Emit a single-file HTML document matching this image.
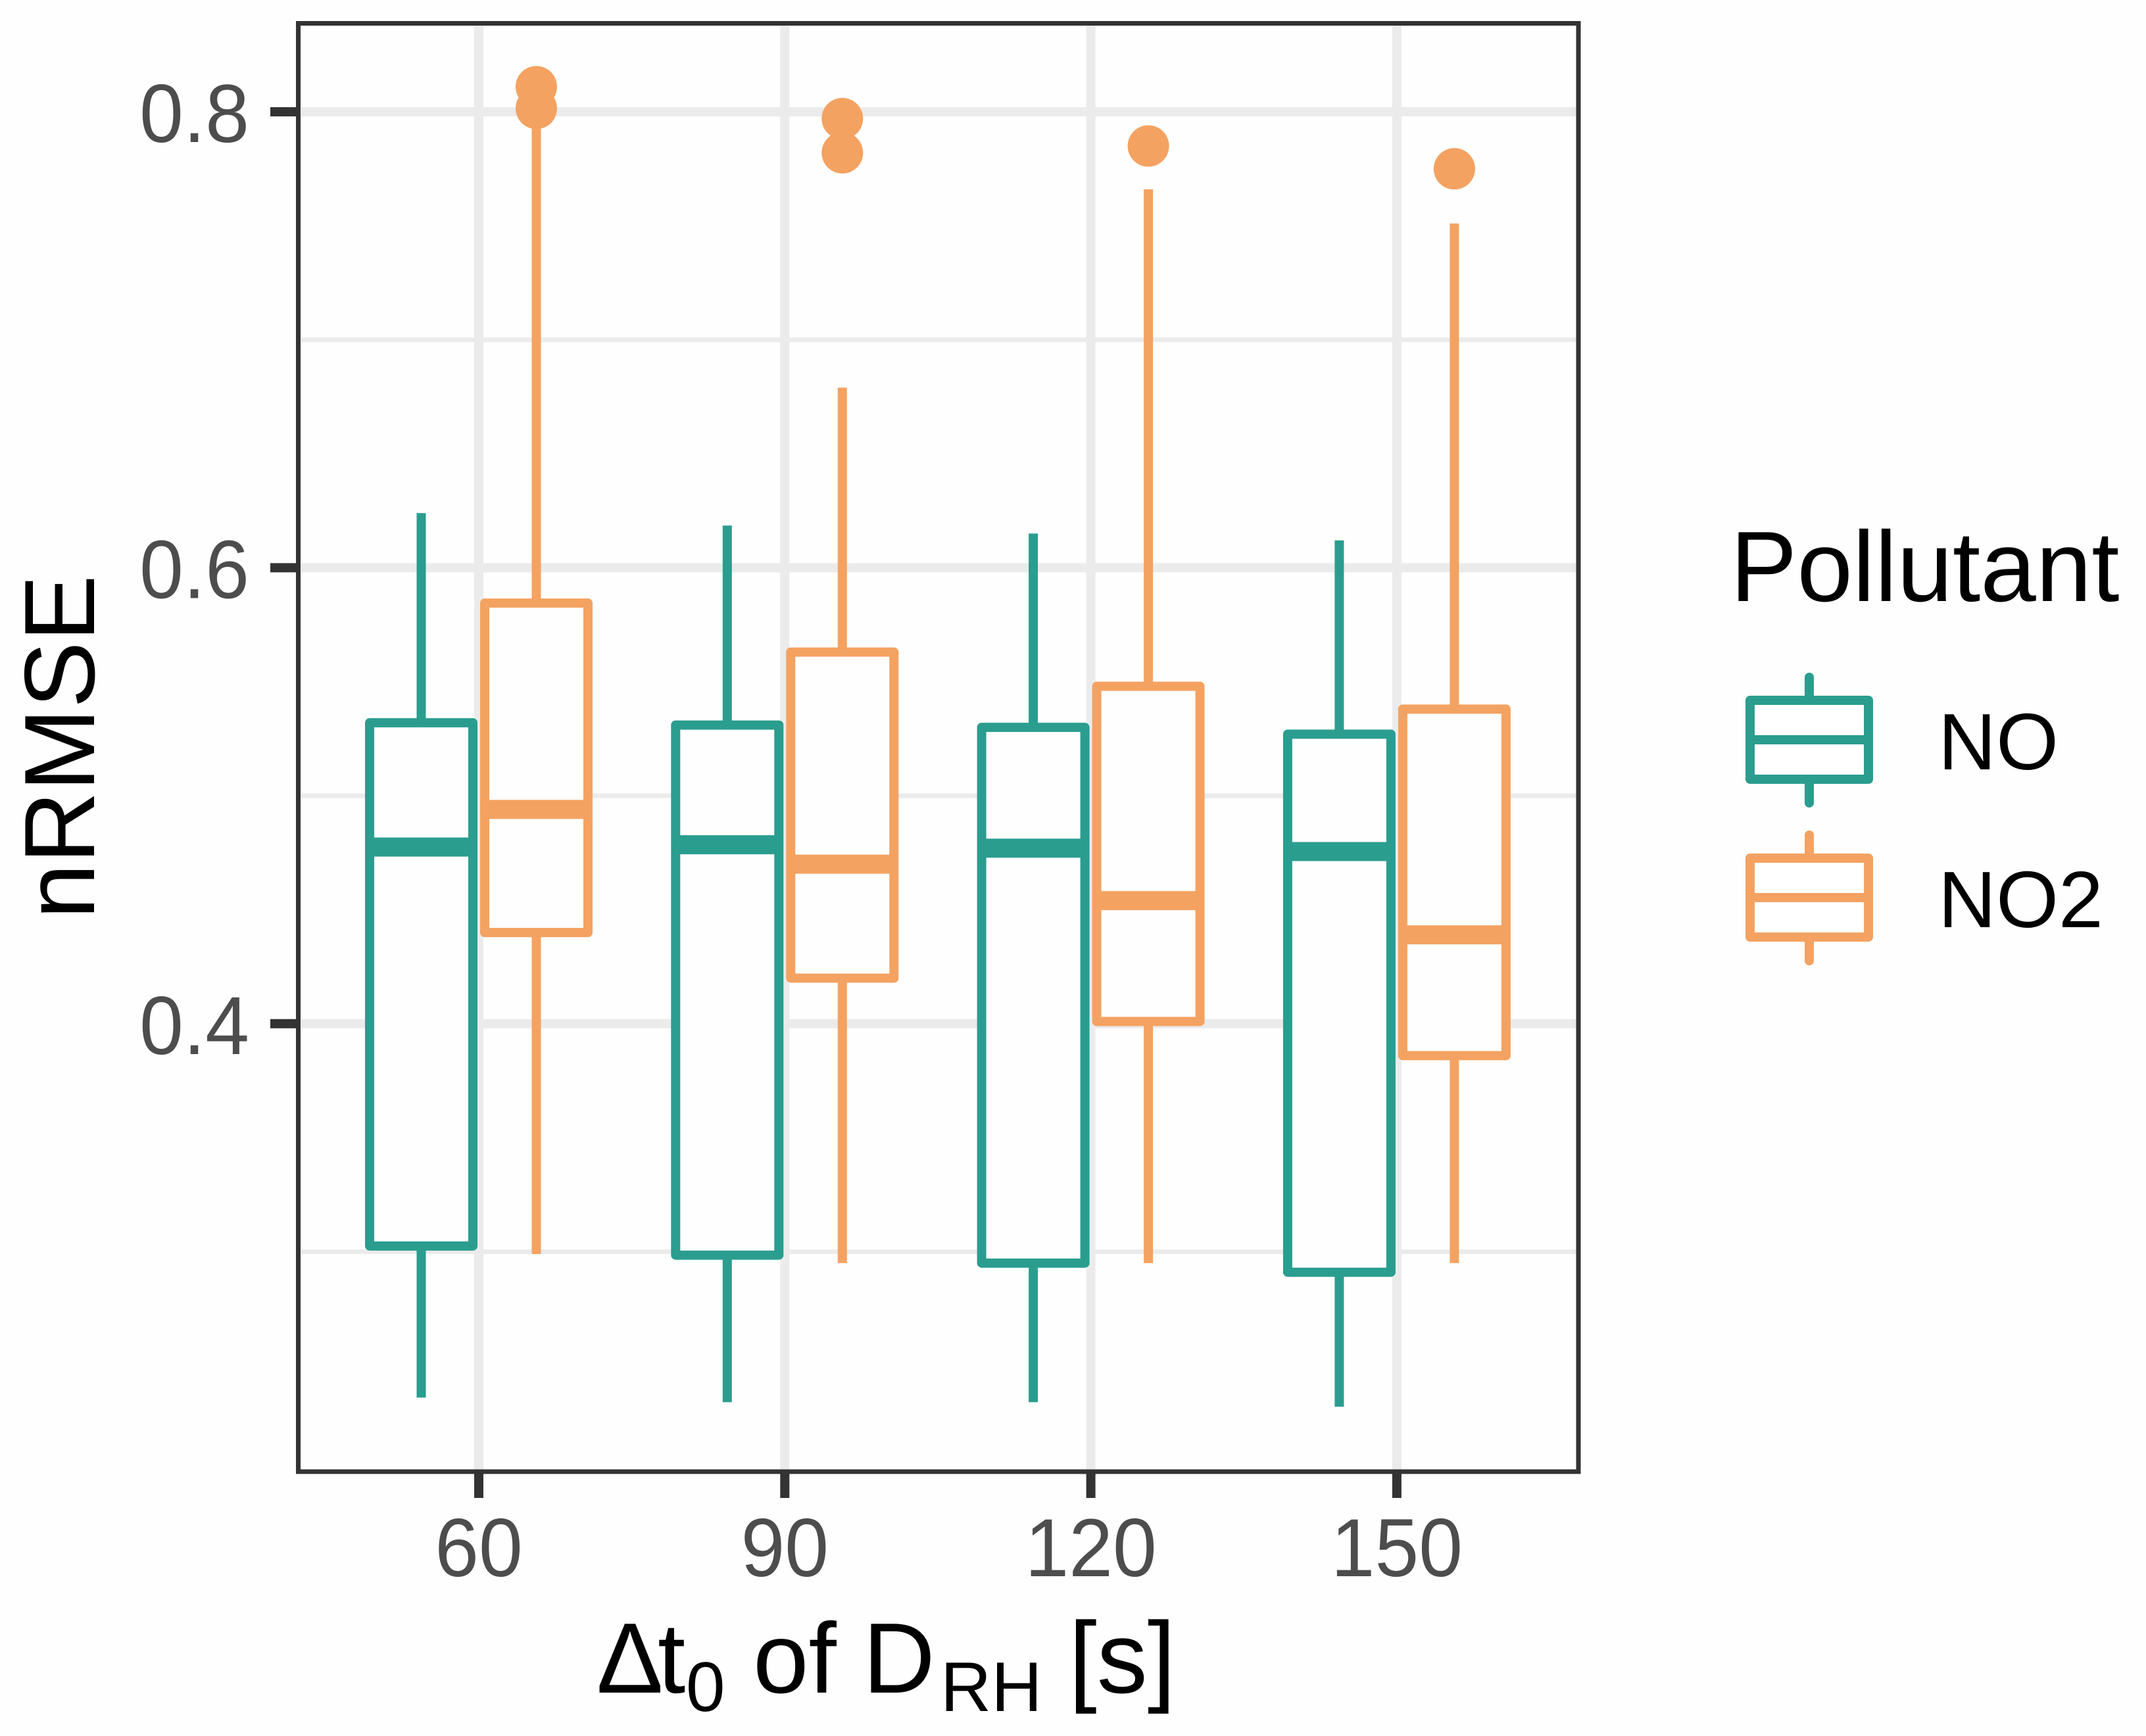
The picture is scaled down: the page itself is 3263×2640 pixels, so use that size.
<!DOCTYPE html>
<html lang="en">
<head>
<meta charset="utf-8">
<title>nRMSE boxplot</title>
<style>
html,body{margin:0;padding:0;background:#fff;}
svg{display:block;font-family:"Liberation Sans",Arial,sans-serif;}
</style>
</head>
<body>
<svg id="chart" xmlns="http://www.w3.org/2000/svg" width="3263" height="2640" viewBox="0 0 3263 2640">
  <rect x="0" y="0" width="3263" height="2640" fill="#fefefe"/>
  <g id="grid"></g>
  <g id="marks"></g>
  <rect x="453.5" y="35.5" width="1946.5" height="2202.5" fill="none" stroke="#333333" stroke-width="7"/>
  <g id="axes"></g>

  <text transform="translate(143,1136) rotate(-90)" text-anchor="middle" font-size="152" fill="#000">nRMSE</text>
  <text font-size="152" fill="#000" y="2574"><tspan x="907">Δ</tspan><tspan x="1000">t</tspan><tspan x="1043" y="2602" font-size="107">0</tspan><tspan x="1145" y="2574">of</tspan><tspan x="1312" y="2574">D</tspan><tspan x="1430" y="2602" font-size="107">RH</tspan><tspan x="1625" y="2574" font-size="154">[s]</tspan></text>

  <g>
    <text x="2631" y="914" font-size="152" fill="#000">Pollutant</text>
    <g fill="none" stroke="#2a9d8f" stroke-width="14">
      <line x1="2751" y1="1030" x2="2751" y2="1065" stroke-linecap="round"/>
      <line x1="2751" y1="1185" x2="2751" y2="1221" stroke-linecap="round"/>
      <rect x="2661" y="1065" width="180" height="120" fill="#fff" stroke-linejoin="round"/>
      <line x1="2661" y1="1125" x2="2841" y2="1125"/>
    </g>
    <text x="2947" y="1170" font-size="122" fill="#000">NO</text>
    <g fill="none" stroke="#f4a261" stroke-width="14">
      <line x1="2751" y1="1270" x2="2751" y2="1305" stroke-linecap="round"/>
      <line x1="2751" y1="1425" x2="2751" y2="1461" stroke-linecap="round"/>
      <rect x="2661" y="1305" width="180" height="120" fill="#fff" stroke-linejoin="round"/>
      <line x1="2661" y1="1365" x2="2841" y2="1365"/>
    </g>
    <text x="2947" y="1410" font-size="122" fill="#000">NO2</text>
  </g>
</svg>
<script>
// ---- chart data ----
const categories = [60, 90, 120, 150];
const xTickLabels = ["60", "90", "120", "150"];
const yMajorTicks = [0.4, 0.6, 0.8];
const yMajorLabels = ["0.4", "0.6", "0.8"];
const yMinorTicks = [0.3, 0.5, 0.7];

const noWhiskerHigh = [0.624, 0.6185, 0.615, 0.612];
const noQ3 = [0.532, 0.531, 0.530, 0.527];
const noMedian = [0.4775, 0.4785, 0.477, 0.4755];
const noQ1 = [0.3025, 0.2985, 0.295, 0.291];
const noWhiskerLow = [0.236, 0.234, 0.234, 0.232];
const noOutliers = [[], [], [], []];

const no2WhiskerHigh = [0.8, 0.679, 0.766, 0.751];
const no2Q3 = [0.5845, 0.563, 0.548, 0.538];
const no2Median = [0.494, 0.470, 0.454, 0.439];
const no2Q1 = [0.440, 0.420, 0.401, 0.386];
const no2WhiskerLow = [0.299, 0.295, 0.295, 0.295];
const no2Outliers = [[0.811, 0.8015], [0.797, 0.782], [0.785], [0.775]];

// ---- axis functions ----
const xScale = function (v) { return 728 + (v - 60) * 465.3 / 30; };
const yScale = function (v) { return 170 + (0.8 - v) * 3467; };

const SVGNS = 'http://www.w3.org/2000/svg';
const PANEL_L = 457, PANEL_R = 2397, PANEL_T = 39, PANEL_B = 2235;

function make(tag, attrs, parent) {
  const el = document.createElementNS(SVGNS, tag);
  for (const k in attrs) { el.setAttribute(k, attrs[k]); }
  parent.appendChild(el);
  return el;
}

const grid = document.getElementById('grid');
const marks = document.getElementById('marks');
const axes = document.getElementById('axes');

// ---- grid ----
yMinorTicks.forEach(function (t) {
  const el = make('line', { x1: PANEL_L, x2: PANEL_R, y1: yScale(t), y2: yScale(t), stroke: '#ebebeb', 'stroke-width': 7 }, grid);
  
  
});
yMajorTicks.forEach(function (t) {
  const el = make('line', { x1: PANEL_L, x2: PANEL_R, y1: yScale(t), y2: yScale(t), stroke: '#ebebeb', 'stroke-width': 14 }, grid);
  
  
});
categories.forEach(function (c) {
  const el = make('line', { x1: xScale(c), x2: xScale(c), y1: PANEL_T, y2: PANEL_B, stroke: '#ebebeb', 'stroke-width': 14 }, grid);
  
  
});

// ---- ticks and labels ----
yMajorTicks.forEach(function (t, i) {
  const tick = make('line', { x1: 411, x2: 453, y1: yScale(t), y2: yScale(t), stroke: '#333333', 'stroke-width': 14 }, axes);
  
  
  const label = make('text', { transform: 'translate(379,' + (yScale(t) + 46) + ') scale(0.96,1)', 'text-anchor': 'end', 'font-size': 125, fill: '#4d4d4d' }, axes);
  
  
  label.textContent = yMajorLabels[i];
});
categories.forEach(function (c, i) {
  const tick = make('line', { x1: xScale(c), x2: xScale(c), y1: 2238, y2: 2278, stroke: '#333333', 'stroke-width': 14 }, axes);
  
  
  const label = make('text', { transform: 'translate(' + xScale(c) + ',2397) scale(0.96,1)', 'text-anchor': 'middle', 'font-size': 125, fill: '#4d4d4d' }, axes);
  
  
  label.textContent = xTickLabels[i];
});

// ---- box series ----
function drawSeries(name, color, offset, hi, q3, med, q1, lo, outliers) {
  categories.forEach(function (c, i) {
    const cx = xScale(c) + offset;
    const g = make('g', {}, marks);
    
    

    const top = make('line', { x1: cx, x2: cx, y1: yScale(hi[i]), y2: yScale(q3[i]), stroke: color, 'stroke-width': 14 }, g);
    
    

    const bottom = make('line', { x1: cx, x2: cx, y1: yScale(q1[i]), y2: yScale(lo[i]), stroke: color, 'stroke-width': 14 }, g);
    
    

    const box = make('rect', { x: cx - 78.5, y: yScale(q3[i]), width: 157, height: yScale(q1[i]) - yScale(q3[i]), fill: '#fefefe', stroke: color, 'stroke-width': 14, 'stroke-linejoin': 'round' }, g);
    
    

    const median = make('line', { x1: cx - 78.5, x2: cx + 78.5, y1: yScale(med[i]), y2: yScale(med[i]), stroke: color, 'stroke-width': 29 }, g);
    
    

    outliers[i].forEach(function (v) {
      const dot = make('circle', { cx: cx, cy: yScale(v), r: 31.5, fill: color }, g);
      
      
    });
  });
}
drawSeries('no', '#2a9d8f', -87.5, noWhiskerHigh, noQ3, noMedian, noQ1, noWhiskerLow, noOutliers);
drawSeries('no2', '#f4a261', 87.5, no2WhiskerHigh, no2Q3, no2Median, no2Q1, no2WhiskerLow, no2Outliers);
</script>
</body>
</html>
